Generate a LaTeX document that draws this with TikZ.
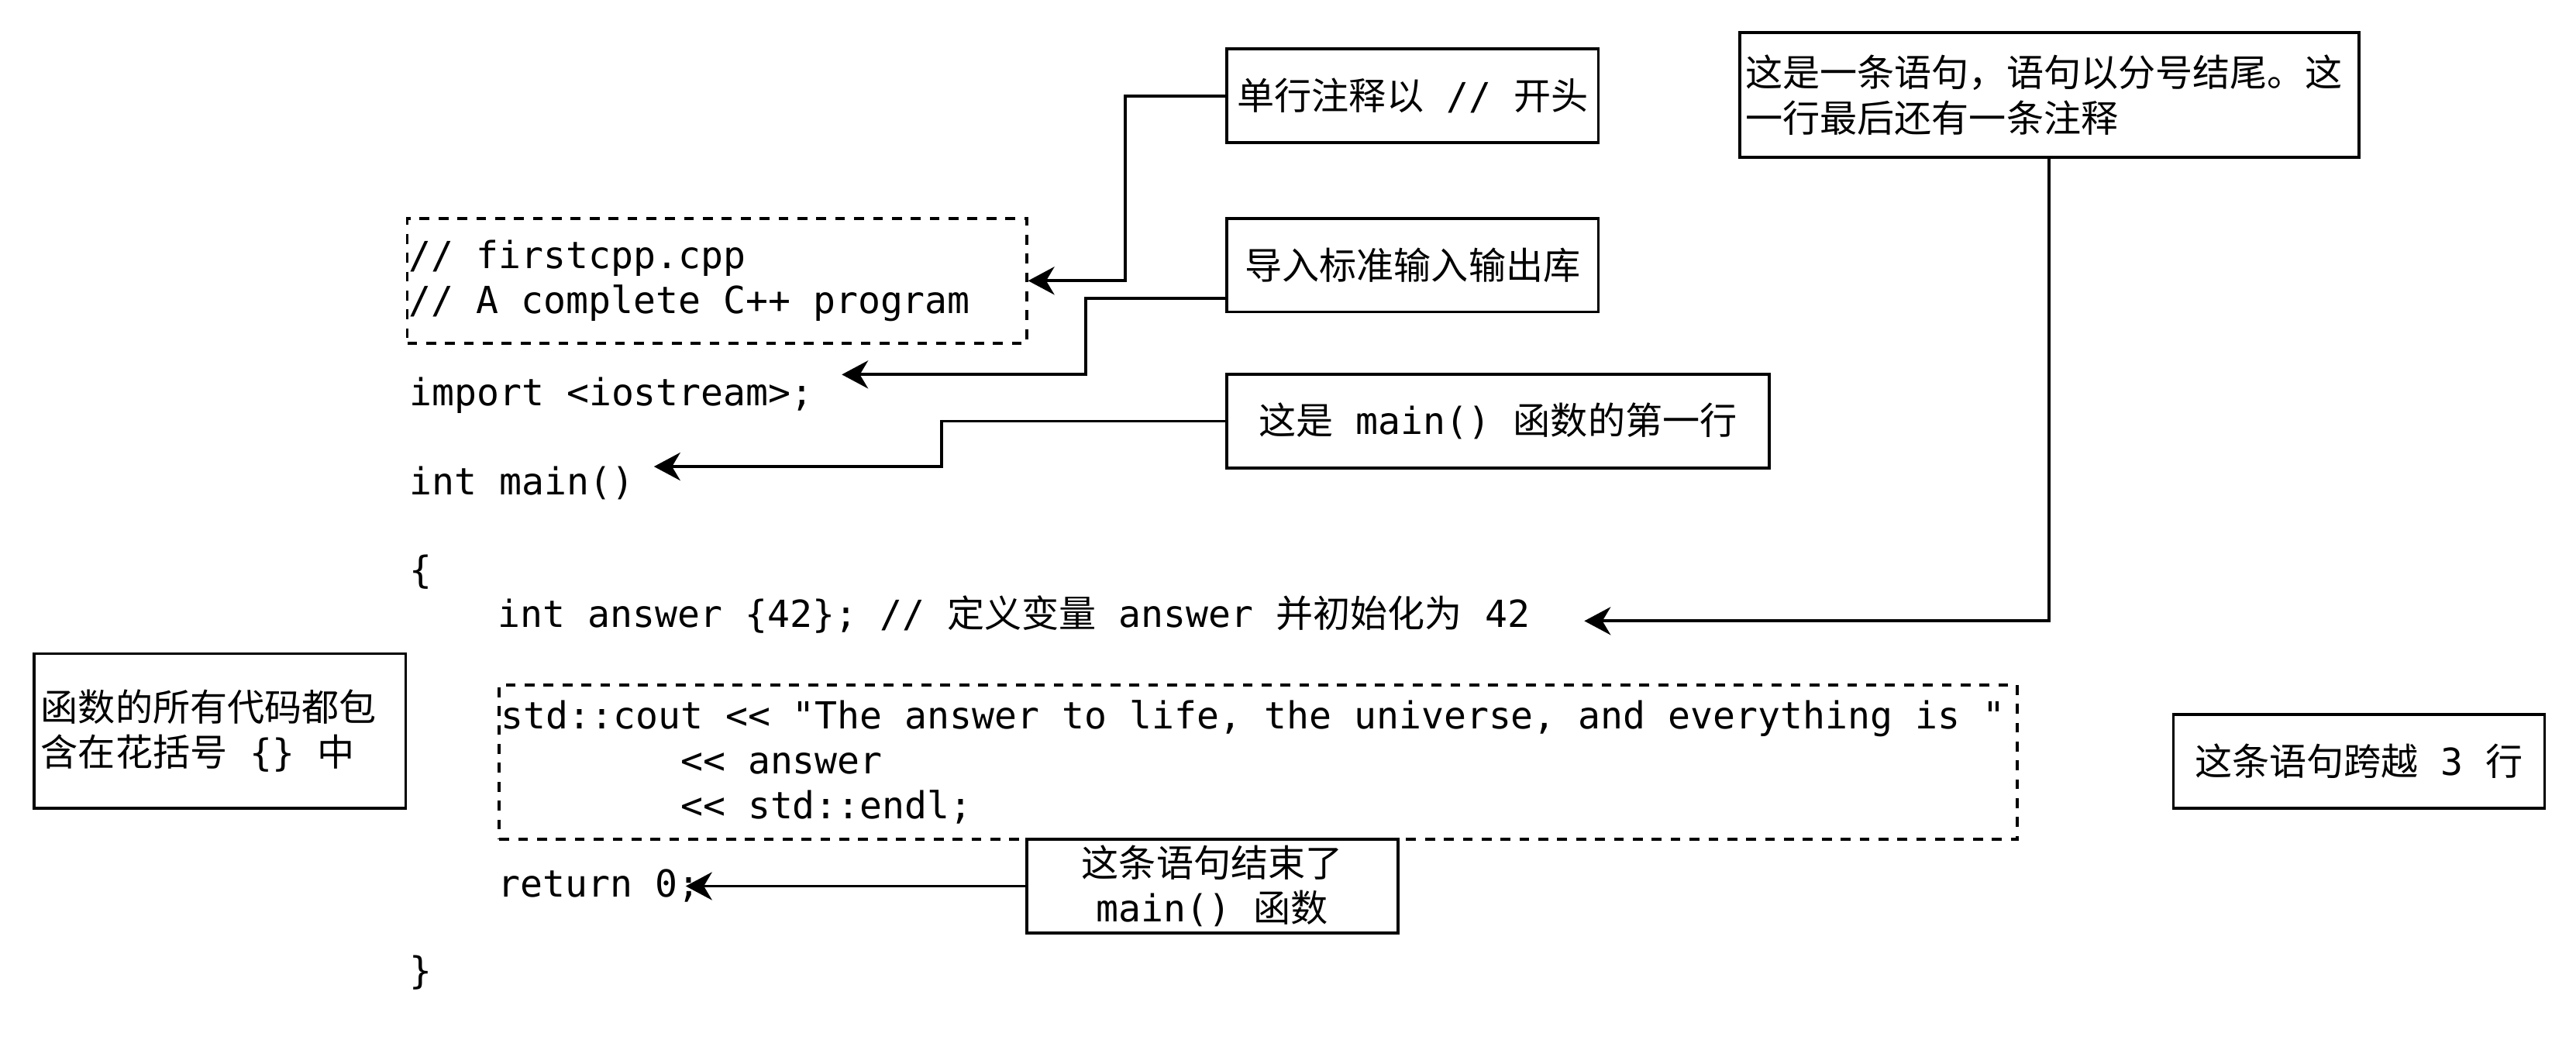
\documentclass[tikz,border=0pt]{standalone}
\usepackage{fontspec}
\setmonofont{DejaVu Sans Mono}
\newfontfamily\cjk{Noto Sans CJK SC}
\usetikzlibrary{arrows.meta,calc}
\newcommand\zh[1]{{\cjk #1}}
\newcommand\codefont{\ttfamily\fontsize{22.7}{27.5}\selectfont}

\begin{document}
\begin{tikzpicture}[x=1pt,y=-1pt,
  note/.style={draw, line width=1.8pt, font=\codefont, inner sep=2pt, minimum width=226pt, minimum height=57pt, align=center, anchor=north west},
  dashbox/.style={draw, line width=1.8pt, dash pattern=on 6pt off 5.5pt, font=\codefont, inner xsep=1pt, inner ysep=0pt, align=flush left, anchor=north west},
  codeline/.style={font=\codefont, inner sep=0pt, anchor=west, text height=17pt, text depth=5pt},
  arr/.style={line width=1.8pt, -{Stealth[length=16pt, width=17pt, inset=5pt]}}]
\useasboundingbox (0,0) rectangle (1568,643);

\node[note] (single) at (746,29) {\zh{单行注释以} // \zh{开头}};
\node[note] (import) at (746,132) {\zh{导入标准输入输出库}};
\node[note, minimum width=330pt] (first) at (746,227) {\zh{这是} main() \zh{函数的第一行}};
\node[note, minimum width=377pt, minimum height=76pt, align=flush left, text width=370pt] (stmt) at (1058,19)
  {\zh{这是一条语句，语句以分号结尾。这}\\\zh{一行最后还有一条注释}};
\node[note, minimum height=94pt, align=flush left, text width=218pt] (body) at (20,397)
  {\zh{函数的所有代码都包}\\\zh{含在花括号} \{\} \zh{中}};
\node[note] (span) at (1322,434) {\zh{这条语句跨越} 3 \zh{行}};
\node[note] (ends) at (624,510) {\zh{这条语句结束了}\\main() \zh{函数}};

\node[dashbox, minimum width=377pt, minimum height=76pt, text width=375pt] (head) at (247,132)
  {// firstcpp.cpp\\// A complete C++ program};
\node[dashbox, minimum width=924pt, minimum height=94pt, text width=922pt] (cout) at (303,416)
  {std::cout << "The answer to life, the universe, and everything is "\\
   \phantom{00000000}<< answer\\
   \phantom{00000000}<< std::endl;};

\node[codeline] (imp) at (249,241) {import <iostream>;};
\node[codeline] (mainfn) at (249,295) {int main()};
\node[codeline] (open) at (249,349) {\{};
\node[codeline] (ans) at (303,376) {int answer \{42\}; // \zh{定义变量} answer \zh{并初始化为} 42};
\node[codeline] (ret) at (303,540) {return 0;};
\node[codeline] (close) at (249,593) {\}};

\draw[arr] (single.west) -- ++(-61,0) |- (head.east);
\draw[arr] ($(import.south west)+(0,-9)$) -- ++(-85,0) |- ($(imp.east)+(17,-13)$);
\draw[arr] (first.west) -- ++(-173,0) |- ($(mainfn.east)+(12,-11)$);
\draw[arr] (stmt.south) |- ($(ans.east)+(33,2)$);
\draw[arr] (ends.west) -- ($(ends.west -| ret.east)+(-9,0)$);
\end{tikzpicture}
\end{document}
